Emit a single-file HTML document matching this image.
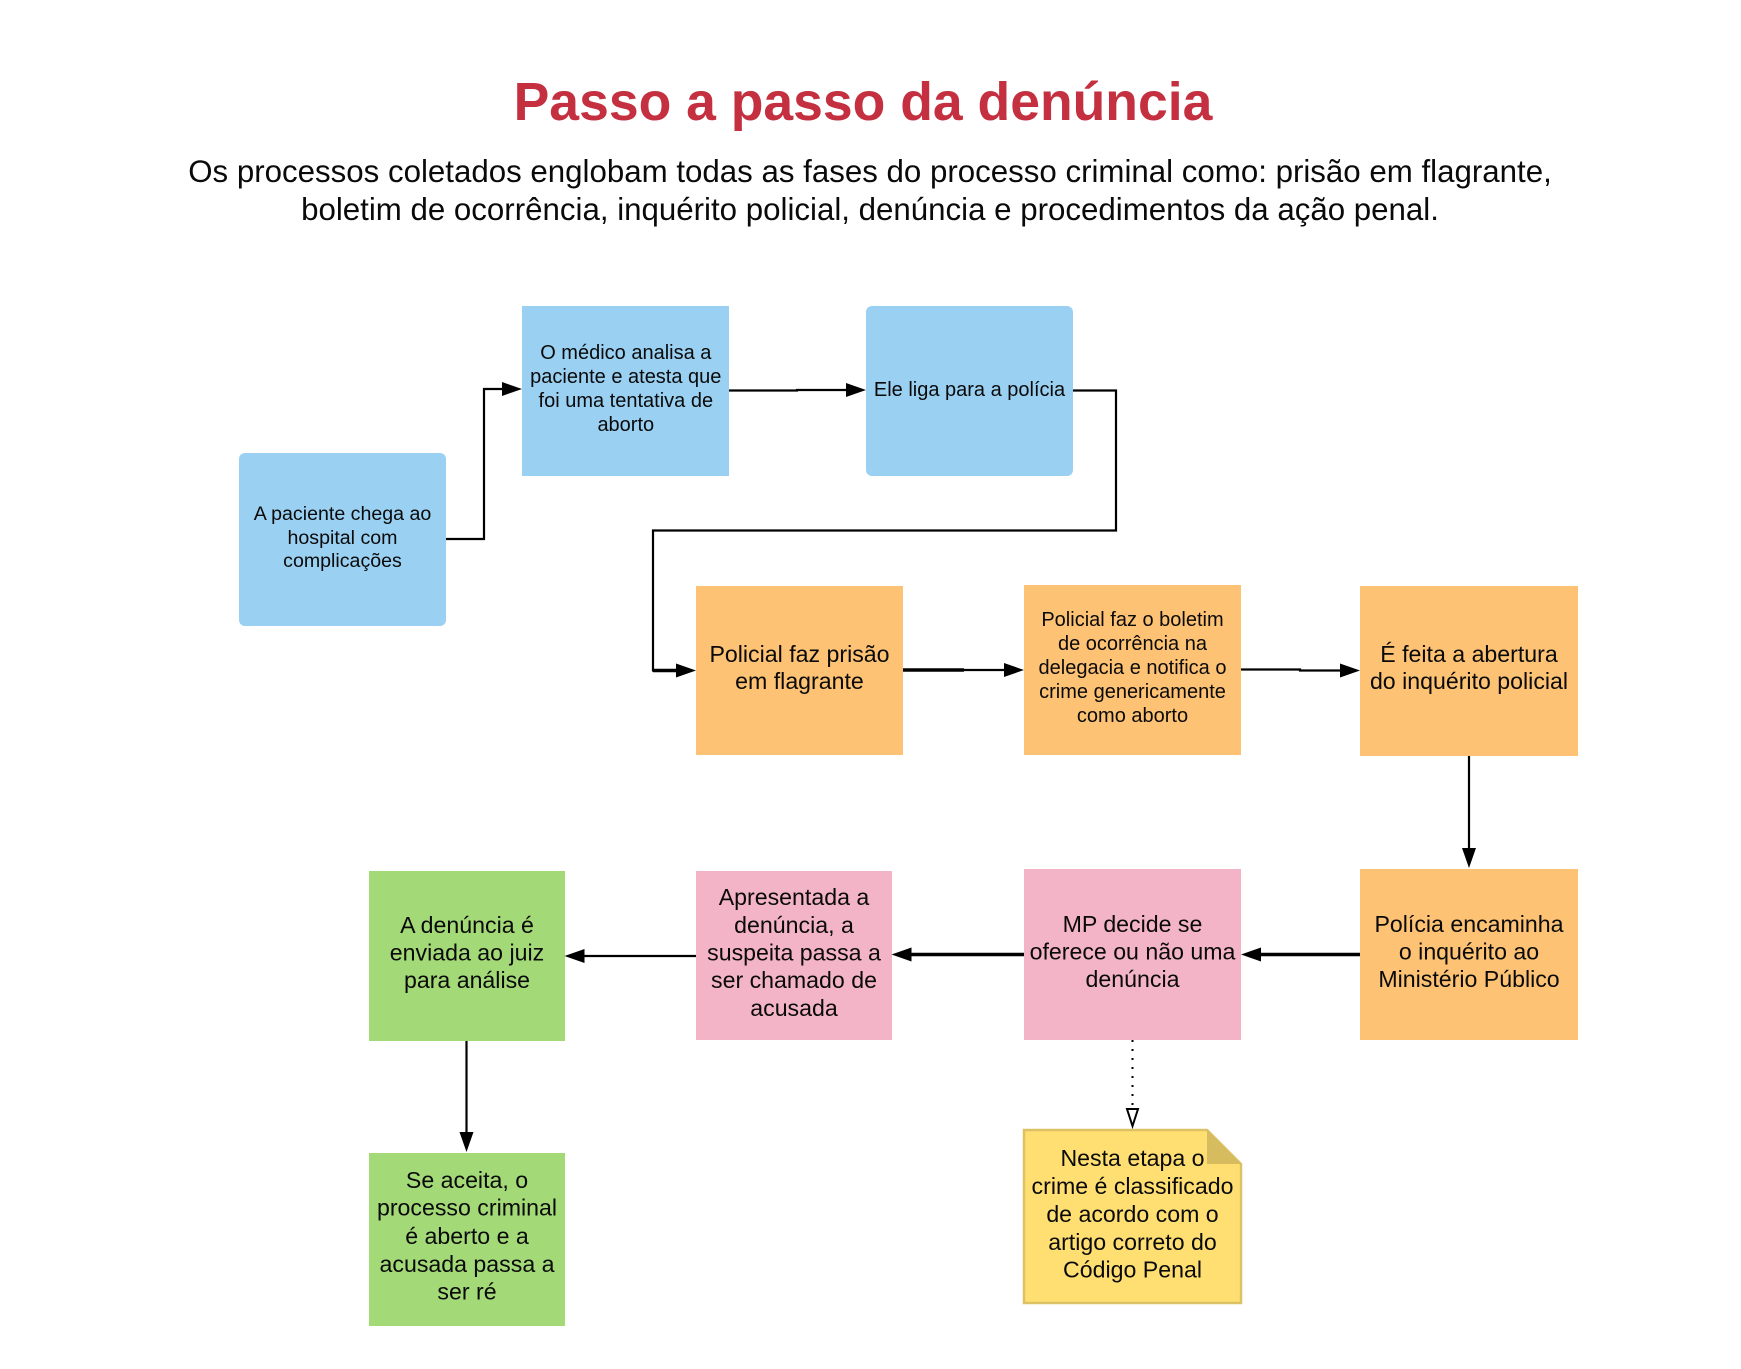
<!DOCTYPE html>
<html lang="pt">
<head>
<meta charset="utf-8">
<title>Passo a passo da denúncia</title>
<style>
html,body{margin:0;padding:0;background:#fff;width:1741px;height:1369px;overflow:hidden}
svg{display:block}
text{font-family:"Liberation Sans",Arial,sans-serif;fill:#0a0a0a;text-anchor:middle}
.s{font-size:20px}
.a{font-size:19.6px}
.m{font-size:23.15px}
.l{stroke:#000;stroke-width:2.2;fill:none}
.t{stroke:#000;stroke-width:3.4;fill:none}
.h{fill:#000}
</style>
</head>
<body>
<svg width="1741" height="1369" viewBox="0 0 1741 1369" xmlns="http://www.w3.org/2000/svg">
<rect width="1741" height="1369" fill="#fff"/>

<text x="863" y="120" style="font-size:53.5px;font-weight:bold;fill:#C4303F">Passo a passo da denúncia</text>
<text x="870" y="182" style="font-size:31.25px">Os processos coletados englobam todas as fases do processo criminal como: prisão em flagrante,</text>
<text x="870" y="220" style="font-size:31.25px">boletim de ocorrência, inquérito policial, denúncia e procedimentos da ação penal.</text>

<!-- blue -->
<rect x="239" y="453" width="207" height="173" rx="6" fill="#9AD0F2"/>
<rect x="522" y="306" width="207" height="170" fill="#9AD0F2"/>
<rect x="866" y="306" width="207" height="170" rx="6" fill="#9AD0F2"/>
<!-- orange -->
<rect x="696" y="586" width="207" height="169" fill="#FDC273"/>
<rect x="1024" y="585" width="217" height="170" fill="#FDC273"/>
<rect x="1360" y="586" width="218" height="170" fill="#FDC273"/>
<rect x="1360" y="869" width="218" height="171" fill="#FDC273"/>
<!-- pink -->
<rect x="1024" y="869" width="217" height="171" fill="#F4B4C8"/>
<rect x="696" y="871" width="196" height="169" fill="#F4B4C8"/>
<!-- green -->
<rect x="369" y="871" width="196" height="170" fill="#A3D977"/>
<rect x="369" y="1153" width="196" height="173" fill="#A3D977"/>
<!-- note -->
<path d="M1024 1130H1207L1241 1164V1303H1024Z" fill="#FFDF71" stroke="#DCC264" stroke-width="2.5"/>
<path d="M1207 1130L1241 1164H1207Z" fill="#D6BC5E"/>

<!-- connectors -->
<path class="l" d="M446 539H484V389H505"/>
<path class="h" d="M522 389L502 382V396Z"/>
<path class="l" d="M729 390.500H797V390H848"/>
<path class="h" d="M866 390L846 383V397Z"/>
<path class="l" d="M1073 390.500H1116V530.500H653V670.500H680"/>
<path class="l" d="M653 670.500H680" style="stroke-width:3.4"/>
<path class="h" d="M696 670.500L676 663.500V677.500Z"/>
<path class="t" d="M903 670H964"/>
<path class="l" d="M964 670H1008"/>
<path class="h" d="M1024 670L1004 663V677Z"/>
<path class="l" d="M1241 669.500H1300V670.500H1344"/>
<path class="h" d="M1360 670.500L1340 663.500V677.500Z"/>
<path class="l" d="M1469 756V850"/>
<path class="h" d="M1469 868L1462 848H1476Z"/>
<path class="t" d="M1360 954.500H1256"/>
<path class="h" d="M1241 954.500L1261 947.500V961.500Z"/>
<path class="t" d="M1024 954.500H906"/>
<path class="h" d="M891.500 954.500L911.500 947.500V961.500Z"/>
<path class="l" d="M696 956H580"/>
<path class="h" d="M564.500 956L584.500 949V963Z"/>
<path class="l" d="M466.500 1041V1134"/>
<path class="h" d="M466.500 1152L459.500 1132H473.500Z"/>
<path d="M1132.500 1040V1107" stroke="#000" stroke-width="2" stroke-dasharray="2 7" fill="none"/>
<path d="M1127 1109H1138L1132.500 1126Z" fill="#fff" stroke="#000" stroke-width="2"/>

<!-- labels -->
<text class="a" x="342.500" y="520">A paciente chega ao</text>
<text class="a" x="342.500" y="544">hospital com</text>
<text class="a" x="342.500" y="567">complicações</text>

<text class="s" x="625.800" y="359">O médico analisa a</text>
<text class="s" x="625.800" y="383">paciente e atesta que</text>
<text class="s" x="625.800" y="407">foi uma tentativa de</text>
<text class="s" x="625.800" y="431">aborto</text>

<text class="s" x="969.500" y="396">Ele liga para a polícia</text>

<text class="m" x="799.500" y="662">Policial faz prisão</text>
<text class="m" x="799.500" y="689">em flagrante</text>

<text class="s" x="1132.500" y="626">Policial faz o boletim</text>
<text class="s" x="1132.500" y="650">de ocorrência na</text>
<text class="s" x="1132.500" y="674">delegacia e notifica o</text>
<text class="s" x="1132.500" y="698">crime genericamente</text>
<text class="s" x="1132.500" y="722">como aborto</text>

<text class="m" x="1469" y="662">É feita a abertura</text>
<text class="m" x="1469" y="689">do inquérito policial</text>

<text class="m" x="1469" y="932">Polícia encaminha</text>
<text class="m" x="1469" y="959.500">o inquérito ao</text>
<text class="m" x="1469" y="987">Ministério Público</text>

<text class="m" x="1132.500" y="932">MP decide se</text>
<text class="m" x="1132.500" y="959.500">oferece ou não uma</text>
<text class="m" x="1132.500" y="987">denúncia</text>

<text class="m" x="794" y="905">Apresentada a</text>
<text class="m" x="794" y="933">denúncia, a</text>
<text class="m" x="794" y="960.500">suspeita passa a</text>
<text class="m" x="794" y="988">ser chamado de</text>
<text class="m" x="794" y="1016">acusada</text>

<text class="m" x="467" y="933">A denúncia é</text>
<text class="m" x="467" y="960.500">enviada ao juiz</text>
<text class="m" x="467" y="988">para análise</text>

<text class="m" x="467" y="1188">Se aceita, o</text>
<text class="m" x="467" y="1215.500">processo criminal</text>
<text class="m" x="467" y="1244">é aberto e a</text>
<text class="m" x="467" y="1272">acusada passa a</text>
<text class="m" x="467" y="1299.500">ser ré</text>

<text class="m" x="1132.500" y="1166">Nesta etapa o</text>
<text class="m" x="1132.500" y="1194">crime é classificado</text>
<text class="m" x="1132.500" y="1222">de acordo com o</text>
<text class="m" x="1132.500" y="1250">artigo correto do</text>
<text class="m" x="1132.500" y="1277.500">Código Penal</text>
</svg>
</body>
</html>
